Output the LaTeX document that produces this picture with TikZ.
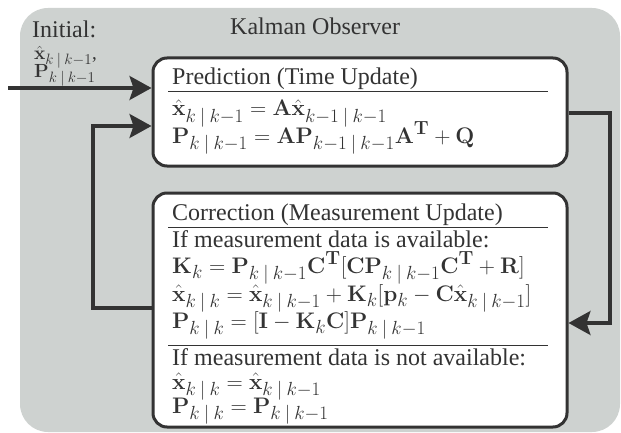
\documentclass[tikz,border=0pt]{standalone}
\usepackage{fix-cm}
\usepackage[no-math]{fontspec}
\setmainfont{Liberation Serif}
\usepackage{xcolor,tikz}
\usetikzlibrary{positioning,arrows.meta}
\DeclareMathSizes{22.5}{22.5}{19}{15}
\DeclareMathSizes{19}{19}{15}{12}
\definecolor{bggray}{RGB}{206,210,208}
\definecolor{ink}{RGB}{51,51,51}
\newcommand{\xh}{\hat{\mathbf{x}}}
\newcommand{\mb}[1]{\mathbf{#1}}
\newcommand{\tr}{^{\mathbf{T}}}
\newcommand{\cnd}{\mskip4mu|\mskip4mu}
\tikzset{%
  panel/.style={draw=ink,fill=white,line width=3pt,rounded corners=14pt,inner sep=0pt},
  txt/.style={anchor=base west,inner sep=0pt,text=ink,font=\fontsize{24}{28}\selectfont},
  eq/.style={txt,font=\fontsize{22.5}{27}\selectfont},
  eqsmall/.style={txt,font=\fontsize{19}{23}\selectfont},
  sep/.style={draw=ink,line width=1pt},
  flow/.style={draw=ink,line width=3.2pt,-{Stealth[length=22pt,width=24pt,inset=4pt]}}
}

\begin{document}
\begin{tikzpicture}[x=1pt,y=-1pt]
  \useasboundingbox (0,0) rectangle (621,433);
  \fill[bggray,rounded corners=28pt] (20,8) rectangle (620,432);

  \node[panel,minimum width=414pt,minimum height=108pt] (pred) at (360,112) {};
  \node[panel,minimum width=414pt,minimum height=234pt] (corr) at (360,310) {};

  \node[txt] (kal) at (230,35) {Kalman Observer};
  \node[txt] (init) at (32,38) {Initial:};
  \node[eqsmall] (initx) at (34,60) {$\xh_{k\cnd k-1}$,};
  \node[eqsmall] (initp) at (34,78) {$\mb{P}_{k\cnd k-1}$};

  \node[txt] (predt) at (172,85) {Prediction (Time Update)};
  \draw[sep] (168,92) -- (548,92);
  \node[eq] (predx) at (172,116) {$\xh_{k\cnd k-1} = \mb{A}\xh_{k-1\cnd k-1}$};
  \node[eq] (predp) at (172,143) {$\mb{P}_{k\cnd k-1} = \mb{A}\mb{P}_{k-1\cnd k-1}\mb{A}\tr + \mb{Q}$};

  \node[txt] (corrt) at (172,220) {Correction (Measurement Update)};
  \draw[sep] (168,227) -- (548,227);
  \node[txt] (ifyes) at (172,247) {If measurement data is available:};
  \node[eq] (corrk) at (172,273) {$\mb{K}_k = \mb{P}_{k\cnd k-1}\mb{C}\tr[\mb{C}\mb{P}_{k\cnd k-1}\mb{C}\tr + \mb{R}]$};
  \node[eq] (corrx) at (172,301) {$\xh_{k\cnd k} = \xh_{k\cnd k-1} + \mb{K}_k[\mb{p}_k - \mb{C}\xh_{k\cnd k-1}]$};
  \node[eq] (corrp) at (172,328) {$\mb{P}_{k\cnd k} = [\mb{I} - \mb{K}_k\mb{C}]\mb{P}_{k\cnd k-1}$};
  \draw[sep] (168,345) -- (548,345);
  \node[txt] (ifno) at (172,365) {If measurement data is not available:};
  \node[eq] (nox) at (172,389) {$\xh_{k\cnd k} = \xh_{k\cnd k-1}$};
  \node[eq] (nop) at (172,413) {$\mb{P}_{k\cnd k} = \mb{P}_{k\cnd k-1}$};

  \coordinate (src) at (8,88);
  \draw[flow] (src) -- (src -| pred.west);
  \coordinate (fbl) at (93,308);
  \coordinate (fbt) at (93,126);
  \draw[flow] (corr.west |- fbl) -- (fbl) -- (fbt) -- (pred.west |- fbt);
  \coordinate (fbr) at (610,113);
  \coordinate (fbb) at (610,323);
  \draw[flow] (pred.east |- fbr) -- (fbr) -- (fbb) -- (corr.east |- fbb);
\end{tikzpicture}
\end{document}
